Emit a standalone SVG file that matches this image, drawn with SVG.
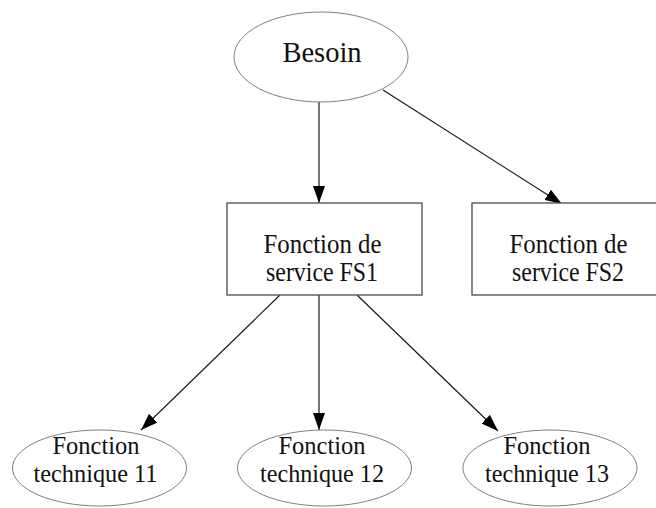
<svg xmlns="http://www.w3.org/2000/svg" width="656" height="508" viewBox="0 0 656 508">
  <style>
    .ell { fill: #ffffff; stroke: #808080; stroke-width: 1; }
    .box { fill: #ffffff; stroke: #4a4a4a; stroke-width: 1.3; }
    .edge { fill: none; stroke: #1a1a1a; stroke-width: 1.2; }
    .lbl { font-family: "Liberation Serif", "Times New Roman", serif; fill: #111111; text-anchor: middle; }
    .big { font-size: 28.5px; }
    .mid { font-size: 27px; }
    .sml { font-size: 24.5px; }
  </style>
  <defs>
    <marker id="arrow" markerUnits="userSpaceOnUse" markerWidth="18" markerHeight="12" refX="17" refY="6" orient="auto">
      <path d="M0,0 L17,6 L0,12 z" fill="#000000"/>
    </marker>
  </defs>
  <rect width="656" height="508" fill="#ffffff"/>

  <g id="connectors">
    <line class="edge" x1="319" y1="102" x2="319" y2="203" marker-end="url(#arrow)"/>
    <line class="edge" x1="383" y1="90" x2="562" y2="204" marker-end="url(#arrow)"/>
    <line class="edge" x1="280" y1="295" x2="141" y2="430" marker-end="url(#arrow)"/>
    <line class="edge" x1="319" y1="295" x2="319" y2="430" marker-end="url(#arrow)"/>
    <line class="edge" x1="357" y1="295" x2="498" y2="431" marker-end="url(#arrow)"/>
  </g>

  <g id="besoin">
    <ellipse class="ell" cx="321" cy="57" rx="87" ry="45"/>
    <text class="lbl big" x="322" y="62">Besoin</text>
  </g>

  <g id="fs1">
    <rect class="box" x="227" y="203" width="195" height="92"/>
    <text class="lbl mid" x="322.5" y="252.5" textLength="118" lengthAdjust="spacingAndGlyphs">Fonction de</text>
    <text class="lbl mid" x="322" y="281" textLength="112" lengthAdjust="spacingAndGlyphs">service FS1</text>
  </g>

  <g id="fs2">
    <rect class="box" x="472" y="203" width="195" height="92"/>
    <text class="lbl mid" x="568.5" y="252.5" textLength="118" lengthAdjust="spacingAndGlyphs">Fonction de</text>
    <text class="lbl mid" x="568" y="281" textLength="112" lengthAdjust="spacingAndGlyphs">service FS2</text>
  </g>

  <g id="ft11">
    <ellipse class="ell" cx="99.5" cy="468" rx="87" ry="38"/>
    <text class="lbl sml" x="96" y="454" textLength="87" lengthAdjust="spacingAndGlyphs">Fonction</text>
    <text class="lbl sml" x="95.5" y="482" textLength="124" lengthAdjust="spacingAndGlyphs">technique 11</text>
  </g>

  <g id="ft12">
    <ellipse class="ell" cx="324.5" cy="468" rx="87" ry="38"/>
    <text class="lbl sml" x="322" y="454" textLength="87" lengthAdjust="spacingAndGlyphs">Fonction</text>
    <text class="lbl sml" x="322" y="482" textLength="124" lengthAdjust="spacingAndGlyphs">technique 12</text>
  </g>

  <g id="ft13">
    <ellipse class="ell" cx="550" cy="468" rx="87" ry="38"/>
    <text class="lbl sml" x="547" y="454" textLength="87" lengthAdjust="spacingAndGlyphs">Fonction</text>
    <text class="lbl sml" x="547" y="482" textLength="124" lengthAdjust="spacingAndGlyphs">technique 13</text>
  </g>
</svg>
